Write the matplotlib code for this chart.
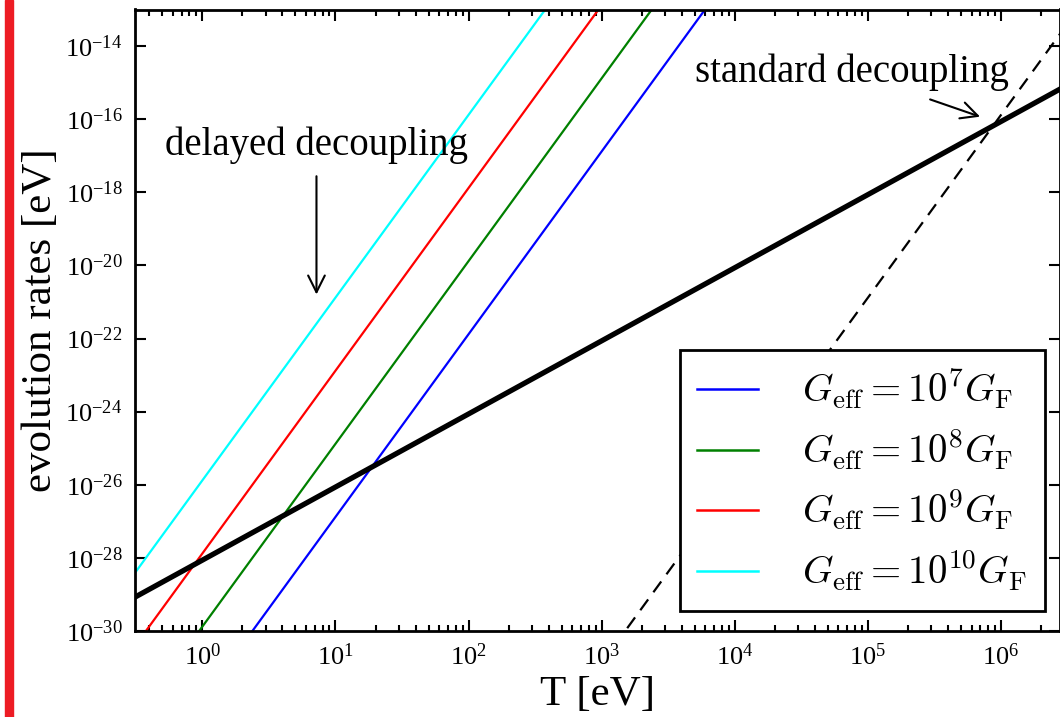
import matplotlib
matplotlib.use("Agg")
import matplotlib.pyplot as plt
from matplotlib.patches import Rectangle
from matplotlib.ticker import FixedLocator, FuncFormatter, LogLocator, NullLocator
import math

plt.rcParams['font.family'] = ['Liberation Serif', 'DejaVu Serif']
plt.rcParams['mathtext.fontset'] = 'cm'
plt.rcParams['axes.unicode_minus'] = False

# line end points (straight lines on log-log axes)
T_ends = [0.3, 3e6]
hubble = [7.8e-30, 7.8e-16]
standard = [3.2e-49, 3.2e-14]
G_labels = [r'$G_{\rm eff} = 10^{7} G_{\rm F}$', r'$G_{\rm eff} = 10^{8} G_{\rm F}$',
            r'$G_{\rm eff} = 10^{9} G_{\rm F}$', r'$G_{\rm eff} = 10^{10} G_{\rm F}$']
G_rates = [[3.2e-35, 3.2e0], [3.2e-33, 3.2e2], [3.2e-31, 3.2e4], [3.2e-29, 3.2e6]]
G_colors = ['blue', 'green', 'red', 'cyan']

x_tick_exp = [0, 1, 2, 3, 4, 5, 6]
y_tick_exp = [-30, -28, -26, -24, -22, -20, -18, -16, -14]

fig = plt.figure(figsize=(10.6, 7.17), dpi=100)
ax = fig.add_axes([135 / 1060, 86 / 717, 925 / 1060, 621.5 / 717])

for rates, col, lab in zip(G_rates, G_colors, G_labels):
    ax.plot(T_ends, rates, color=col, lw=1.6, label=lab)
ax.plot(T_ends, hubble, color='black', lw=3.8)
ax.plot(T_ends, standard, color='black', lw=1.6, dashes=(6, 4))

ax.set_xscale('log')
ax.set_yscale('log')
ax.set_xlim(0.312, 2.77e6)
ax.set_ylim(1e-30, 1e-13)

fmt = FuncFormatter(lambda v, p: r'$\mathregular{10^{%d}}$' % round(math.log10(v)))
ax.xaxis.set_major_locator(FixedLocator([10.0 ** e for e in x_tick_exp]))
ax.xaxis.set_minor_locator(LogLocator(base=10, subs=range(2, 10), numticks=50))
ax.yaxis.set_major_locator(FixedLocator([10.0 ** e for e in y_tick_exp]))
ax.yaxis.set_minor_locator(NullLocator())
ax.xaxis.set_major_formatter(fmt)
ax.yaxis.set_major_formatter(fmt)

ax.tick_params(which='both', direction='in', top=True, right=True, labelsize=19, width=1.5)
ax.tick_params(which='major', length=8, pad=9)
ax.tick_params(which='minor', length=4)
for s in ax.spines.values():
    s.set_linewidth(2)

ax.set_xlabel('T [eV]', fontsize=31, labelpad=4)
ax.set_ylabel('evolution rates [eV]', fontsize=31, labelpad=4)

arrow = dict(arrowstyle='->', lw=1.5, mutation_scale=30, shrinkA=0, shrinkB=0)
ax.text(0.524, 1.07e-17, 'delayed decoupling', fontsize=28, va='baseline', ha='left')
ax.annotate('', xy=(7.2, 1.6e-21), xytext=(7.2, 2.75e-18), arrowprops=arrow)
ax.text(5.0e3, 1.07e-15, 'standard decoupling', fontsize=28, va='baseline', ha='left')
ax.annotate('', xy=(6.95e5, 1.17e-16), xytext=(2.93e5, 3.47e-16), arrowprops=arrow)

leg = ax.legend(loc='lower right', bbox_to_anchor=(0.9838, 0.0322), fontsize=28,
                handlelength=1.55, handletextpad=1.15, labelspacing=0.4, borderpad=0.45,
                borderaxespad=0, fancybox=False, framealpha=1)
leg.get_frame().set_edgecolor('black')
leg.get_frame().set_linewidth(2)
for h in leg.get_lines():
    h.set_linewidth(1.8)

fig.patches.append(Rectangle((5 / 1060, 0), 7.5 / 1060, 1, transform=fig.transFigure,
                             color='#ed1c24', zorder=0))

fig.savefig('out.png', dpi=100)
